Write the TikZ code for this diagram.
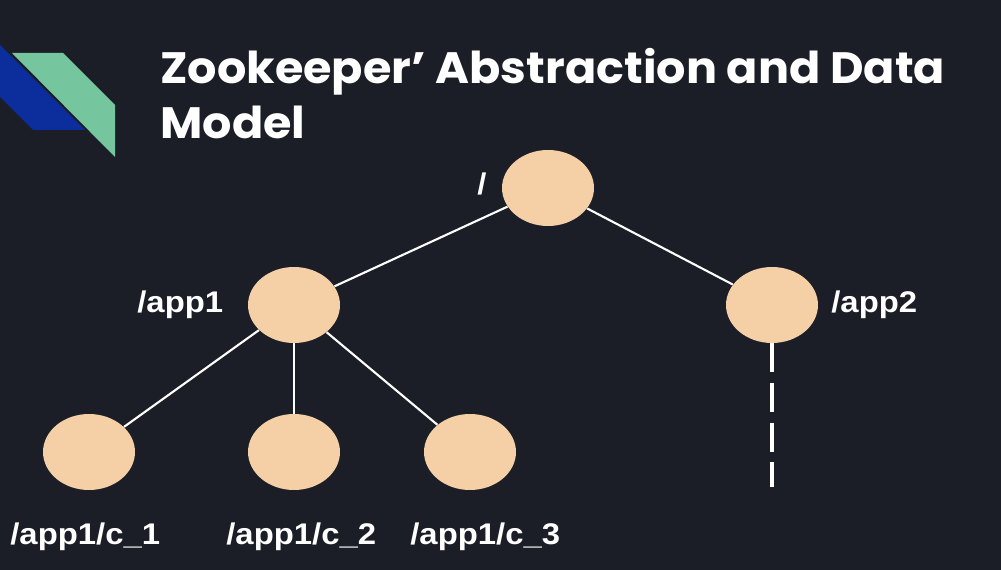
\documentclass[tikz,border=0pt]{standalone}
\usepackage{fontspec}
\setmainfont{Liberation Sans}
\newfontfamily\titlefont{Poppins}
\usetikzlibrary{shapes.geometric}
\definecolor{slidebg}{RGB}{27,30,38}
\definecolor{peach}{RGB}{245,208,166}
\definecolor{logogreen}{RGB}{117,198,158}
\definecolor{logoblue}{RGB}{11,46,156}
\newcommand{\zl}[1]{\scalebox{1.1}[1]{#1}}
\newcommand{\zt}[1]{\scalebox{1.05}[1]{#1}}

\begin{document}
\begin{tikzpicture}[x=0.02cm, y=0.02cm]
\tikzstyle{every node}+=[inner sep=0pt]
\tikzstyle{znode}=[ellipse, fill=peach, minimum width=1.84cm, minimum height=1.52cm]
\tikzstyle{zlabel}=[anchor=base west, text=white, font=\fontsize{17}{20}\selectfont\bfseries]
\tikzstyle{ztitle}=[anchor=base west, text=white, font=\titlefont\fontsize{25}{28}\selectfont\bfseries]
\tikzstyle{edge}=[white, line width=1.2pt]
\fill [slidebg] (0,0) rectangle (1001,-570);
\useasboundingbox (0,0) rectangle (1001,-570);
% logo
\fill [logoblue] (0,-45) -- (85,-130) -- (33,-130) -- (0,-97) -- cycle;
\fill [logogreen] (12,-53) -- (63,-53) -- (115,-105) -- (115,-157) -- cycle;
% title
\node [ztitle] (title1) at (160,-84) {\zt{Zookeeper’ Abstraction and Data}};
\node [ztitle] (title2) at (160,-139) {\zt{Model}};
% tree
\node [znode] (root) at (548,-188) {};
\node [znode] (app1) at (294,-305) {};
\node [znode] (app2) at (772,-305) {};
\node [znode] (c1) at (89,-452) {};
\node [znode] (c2) at (294,-452) {};
\node [znode] (c3) at (470,-452) {};
\coordinate (app2end) at (772,-487);
\draw [edge] (root) -- (app1);
\draw [edge] (root) -- (app2);
\draw [edge] (app1) -- (c1);
\draw [edge] (app1) -- (c2);
\draw [edge] (app1) -- (c3);
\draw [white, line width=2pt, dash pattern=on 16.4pt off 6.2pt] (app2) -- (app2end);
% labels
\node [zlabel] (lroot) at (477,-195) {\zl{/}};
\node [zlabel] (lapp1) at (137,-313) {\zl{/app1}};
\node [zlabel] (lapp2) at (831,-313) {\zl{/app2}};
\node [zlabel] (lc1) at (10,-545) {\zl{/app1/c\_1}};
\node [zlabel] (lc2) at (226,-545) {\zl{/app1/c\_2}};
\node [zlabel] (lc3) at (410,-545) {\zl{/app1/c\_3}};
\end{tikzpicture}
\end{document}
